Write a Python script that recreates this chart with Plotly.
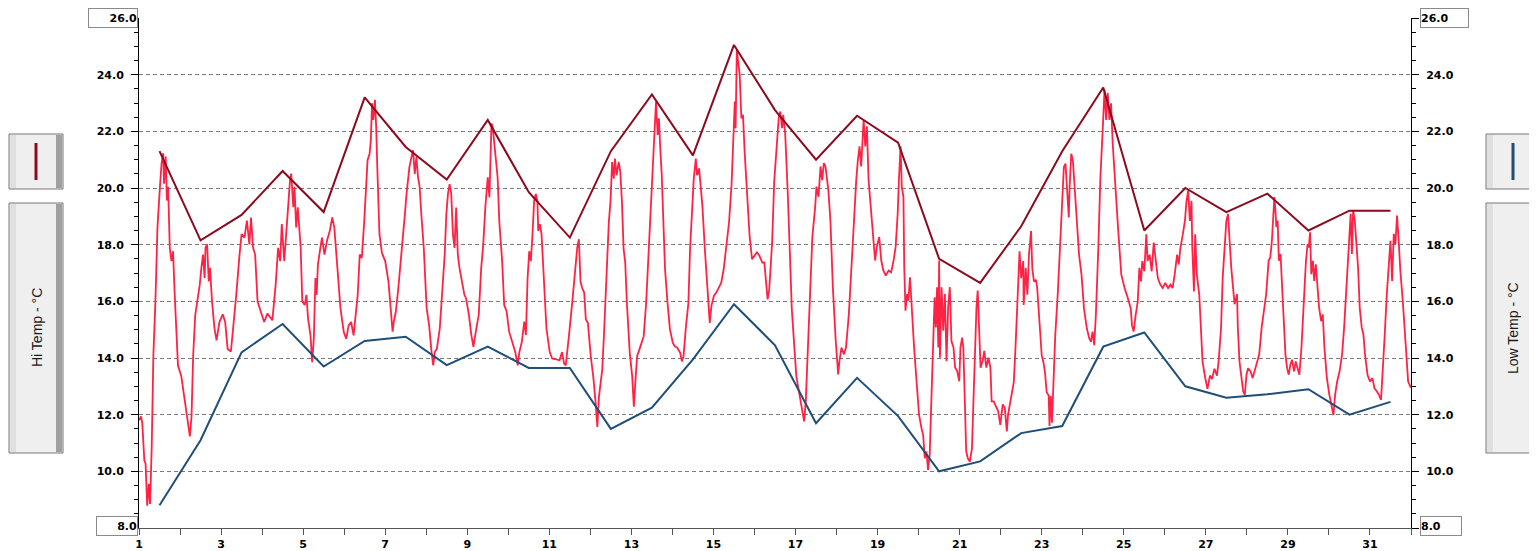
"""
plot.py
Gráfico de temperatura: registo contínuo + máximas/mínimas diárias, dois eixos Y.
"""

import plotly.graph_objects as go

# --- Dados ------------------------------------------------------------------

# Máximas / mínimas diárias (ponto a meio de cada dia)
day_mid = [1.5, 2.5, 3.5, 4.5, 5.5, 6.5, 7.5, 8.5, 9.5, 10.5, 11.5, 12.5, 13.5, 14.5, 15.5, 16.5,
           17.5, 18.5, 19.5, 20.5, 21.5, 22.5, 23.5, 24.5, 25.5, 26.5, 27.5, 28.5, 29.5, 30.5, 31.5]
hi_temp = [21.3, 18.15, 19.05, 20.6, 19.15, 23.2, 21.45, 20.3, 22.4, 19.85, 18.25, 21.3, 23.3, 21.15, 25.05, 22.75,
           21.0, 22.55, 21.6, 17.5, 16.65, 18.65, 21.3, 23.55, 18.5, 20.0, 19.15, 19.8, 18.5, 19.2, 19.2]
low_temp = [8.8, 11.1, 14.2, 15.2, 13.7, 14.6, 14.75, 13.75, 14.4, 13.65, 13.65, 11.5, 12.25, 13.95, 15.9, 14.45,
            11.7, 13.3, 11.95, 10.0, 10.35, 11.35, 11.6, 14.4, 14.9, 13.0, 12.6, 12.72, 12.9, 12.0, 12.45]

# Registo contínuo (dia, °C)
temp_x = [
    1.0, 1.05, 1.08, 1.13, 1.16, 1.2, 1.24, 1.27, 1.31, 1.35, 1.40, 1.45, 1.51, 1.55, 1.59, 1.61, 1.65, 1.68, 1.71,
    1.75, 1.79, 1.83, 1.87, 1.95, 2.03, 2.11, 2.19, 2.24, 2.28, 2.32, 2.37, 2.44, 2.48, 2.52, 2.56, 2.6, 2.62, 2.66,
    2.70, 2.73, 2.78, 2.84, 2.89, 2.96, 3.04, 3.1, 3.16, 3.24, 3.31, 3.37, 3.45, 3.5, 3.57, 3.63, 3.69, 3.73, 3.78,
    3.83, 3.89, 3.97, 4.05, 4.13, 4.25, 4.33, 4.39, 4.44, 4.48, 4.54, 4.58, 4.63, 4.68, 4.71, 4.76, 4.79, 4.83, 4.87,
    4.94, 4.98, 5.04, 5.08, 5.12, 5.18, 5.22, 5.26, 5.3, 5.33, 5.36, 5.42, 5.46, 5.52, 5.58, 5.65, 5.71, 5.76, 5.81,
    5.87, 5.91, 5.99, 6.05, 6.11, 6.17, 6.23,
    6.33, 6.38, 6.43, 6.49, 6.54, 6.57, 6.62, 6.65, 6.68, 6.71, 6.75, 6.78, 6.81, 6.86, 6.92, 7.0, 7.08, 7.13, 7.18,
    7.21, 7.26, 7.32, 7.4, 7.44, 7.48, 7.52, 7.59, 7.64, 7.68, 7.72, 7.76, 7.80, 7.84, 7.88, 7.94, 8.01, 8.07, 8.13,
    8.17, 8.21, 8.26, 8.33, 8.39, 8.45, 8.49, 8.53, 8.57, 8.61, 8.65, 8.69, 8.73, 8.77, 8.81, 8.88, 8.93, 8.97, 9.04,
    9.1, 9.15, 9.22, 9.28, 9.34, 9.39, 9.44, 9.5, 9.54, 9.56, 9.59, 9.62, 9.66, 9.7, 9.74, 9.78, 9.85, 9.9, 9.96,
    10.02, 10.09, 10.17, 10.23, 10.27, 10.33, 10.39, 10.43, 10.47, 10.51, 10.55, 10.59, 10.63, 10.67, 10.71, 10.73,
    10.77, 10.81, 10.87, 10.93, 11.01, 11.07, 11.17, 11.25, 11.31, 11.36, 11.4, 11.44, 11.48, 11.56, 11.62, 11.68,
    11.72, 11.76, 11.8,
    11.81, 11.85, 11.89, 11.94, 12.01, 12.07, 12.13, 12.17, 12.21, 12.25, 12.29, 12.33, 12.4, 12.45, 12.49, 12.53,
    12.57, 12.6, 12.64, 12.69, 12.73, 12.77, 12.81, 12.85, 12.89, 12.96, 13.02, 13.06, 13.1, 13.14, 13.22, 13.3,
    13.36, 13.42, 13.46, 13.5, 13.54, 13.58, 13.6, 13.64, 13.67, 13.7, 13.74, 13.78, 13.82, 13.88, 13.94, 14.01,
    14.06, 14.12, 14.19, 14.23, 14.27, 14.33, 14.39, 14.43, 14.47, 14.52, 14.57, 14.6, 14.65, 14.69, 14.73, 14.79,
    14.85, 14.91, 14.95, 15.01, 15.07, 15.14, 15.19, 15.25, 15.31, 15.38, 15.44, 15.48, 15.52, 15.54, 15.57, 15.6,
    15.64, 15.68, 15.72, 15.76, 15.8, 15.88, 15.94, 16.0, 16.06, 16.12, 16.19, 16.24, 16.3, 16.32, 16.36, 16.43,
    16.48, 16.54, 16.59, 16.63, 16.67, 16.7, 16.75, 16.81, 16.86, 16.91, 16.97, 17.02, 17.09,
    17.15, 17.21, 17.25, 17.29, 17.35, 17.41, 17.48, 17.51, 17.56, 17.61, 17.65, 17.69, 17.73, 17.8, 17.85, 17.91,
    17.98, 18.04, 18.07, 18.12, 18.18, 18.23, 18.3, 18.36, 18.42, 18.48, 18.52, 18.56, 18.6, 18.64, 18.66, 18.7,
    18.74, 18.78, 18.85, 18.9, 18.94, 18.98, 19.04, 19.09, 19.14, 19.2, 19.27, 19.33, 19.39, 19.44, 19.49, 19.52,
    19.56, 19.59, 19.63, 19.65, 19.68, 19.72, 19.75, 19.79, 19.83, 19.89, 19.95, 20.01, 20.07, 20.11, 20.15, 20.19,
    20.23, 20.27, 20.31, 20.35, 20.39, 20.42, 20.45, 20.48, 20.5, 20.52, 20.56, 20.6, 20.64, 20.68, 20.72, 20.76,
    20.8, 20.85, 20.89, 20.94, 20.99, 21.02, 21.06, 21.09, 21.12, 21.16, 21.2, 21.25, 21.3, 21.35, 21.38, 21.41,
    21.44, 21.48, 21.51, 21.56, 21.6, 21.65, 21.7, 21.75, 21.78, 21.83, 21.89, 21.94, 21.99, 22.05, 22.1, 22.15,
    22.18,
    22.26, 22.32, 22.36, 22.42, 22.46, 22.5, 22.55, 22.56, 22.61, 22.65, 22.69, 22.74, 22.77, 22.81, 22.86, 22.89,
    22.94, 23.0, 23.04, 23.08, 23.12, 23.17, 23.19, 23.22, 23.25, 23.29, 23.33, 23.39, 23.44, 23.5, 23.54, 23.58,
    23.62, 23.66, 23.68, 23.72, 23.76, 23.8, 23.85, 23.91, 23.97, 24.03, 24.1, 24.16, 24.2, 24.24, 24.28, 24.32,
    24.38, 24.43, 24.49, 24.53, 24.57, 24.61, 24.65, 24.69, 24.73, 24.79, 24.86, 24.94, 25.02, 25.1, 25.17, 25.2,
    25.24, 25.29, 25.34, 25.38, 25.42, 25.45, 25.5, 25.55, 25.58, 25.63, 25.68, 25.73, 25.78, 25.83, 25.89, 25.95,
    26.01, 26.08, 26.14, 26.19, 26.24, 26.3, 26.34, 26.38, 26.44, 26.49, 26.53, 26.57, 26.61, 26.65, 26.67, 26.71,
    26.74, 26.78, 26.84, 26.88, 26.92, 26.99, 27.04, 27.1, 27.15, 27.21, 27.27, 27.31, 27.37, 27.41, 27.46, 27.5,
    27.54, 27.58, 27.62,
    27.7, 27.76, 27.78, 27.82, 27.87, 27.91, 27.95, 27.99, 28.03, 28.09, 28.14, 28.2, 28.25, 28.3, 28.36, 28.42,
    28.47, 28.53, 28.57, 28.61, 28.63, 28.67, 28.69, 28.72, 28.75, 28.78, 28.82, 28.86, 28.9, 28.94, 28.98, 29.02,
    29.06, 29.1, 29.15, 29.19, 29.23, 29.28, 29.33, 29.37, 29.41, 29.44, 29.48, 29.51, 29.54, 29.57, 29.61, 29.64,
    29.68, 29.72, 29.76, 29.81, 29.85, 29.89, 29.95, 30.01, 30.07, 30.11, 30.15, 30.2, 30.26, 30.32, 30.37, 30.42,
    30.47, 30.51, 30.53, 30.56, 30.59, 30.63, 30.67, 30.71, 30.75, 30.8, 30.84, 30.88, 30.94, 31.0, 31.06, 31.11,
    31.17, 31.22, 31.27, 31.31, 31.36, 31.41, 31.46, 31.5, 31.54, 31.58, 31.62, 31.66, 31.7, 31.74, 31.8, 31.87,
    31.93, 32.0,
]
temp_y = [
    11.8, 11.94, 11.7, 10.39, 10.27, 8.79, 9.56, 8.85, 10.87, 14.08, 15.99, 18.61, 20.04, 20.87, 21.23, 20.15, 21.11,
    19.56, 20.04, 17.89, 17.42, 17.77, 16.23, 13.73, 13.37, 12.54, 11.58, 11.23, 11.94, 14.08, 15.51, 16.23, 16.58,
    17.18, 17.65, 16.82, 17.89, 18.01, 16.7, 17.18, 15.99, 15.04, 14.62, 15.27, 15.54, 15.27, 14.32, 14.23, 15.27,
    16.23, 17.65, 18.37, 18.25, 18.85, 18.01, 18.96, 17.89, 17.65, 15.99, 15.63, 15.27, 15.57, 15.33, 16.58, 17.89,
    17.42, 18.73, 17.42, 18.25, 19.56, 20.27, 20.51, 19.32, 20.04, 18.61, 19.32, 17.89, 15.99, 15.87, 16.23, 15.39,
    14.8, 13.85, 14.68, 16.82, 16.23, 17.3, 17.89, 18.25, 17.65, 18.13, 18.49, 18.96, 18.61, 17.65, 16.7, 15.75,
    14.92, 14.68, 15.15, 15.27, 14.8,
    16.23, 17.65, 17.53, 18.84, 20.03, 20.98, 21.21, 21.69, 22.99, 22.4, 23.11, 22.16, 20.62, 18.37, 17.71, 17.42,
    16.7, 15.76, 14.93, 15.28, 15.64, 16.47, 17.65, 18.25, 19.08, 19.79, 20.74, 21.09, 21.33, 20.5, 21.09, 20.38,
    20.03, 19.08, 17.89, 15.76, 15.16, 14.21, 13.74, 14.21, 14.33, 15.04, 16.23, 17.65, 19.08, 19.79, 20.14, 19.79,
    18.37, 17.89, 19.31, 17.65, 17.18, 16.7, 16.23, 16.11, 15.52, 14.81, 14.39, 15.04, 15.52, 17.18, 18.01, 19.31,
    20.38, 19.67, 21.21, 22.28, 22.16, 21.57, 20.98, 20.38, 18.84, 17.42, 15.87, 15.64, 14.93, 14.57, 14.21, 13.74,
    14.21, 14.57, 15.28, 14.81, 16.82, 17.77, 17.42, 18.37, 19.55, 19.79, 19.55, 18.48, 18.72, 18.37, 16.82, 15.04,
    14.21, 13.98, 13.95, 13.92, 14.21, 13.8, 13.74, 14.21, 14.81, 15.99, 16.82, 17.89, 18.19, 16.7, 16.47,
    16.43, 16.31, 15.36, 15.24, 14.06, 13.35, 12.4, 11.57, 12.64, 13.11, 13.59, 14.77, 17.14, 18.79, 19.5, 20.92,
    20.33, 21.04, 20.45, 20.92, 20.57, 19.5, 17.85, 17.37, 15.95, 14.18, 13.35, 12.28, 13.23, 14.06, 14.41, 14.77,
    15.95, 17.85, 19.27, 20.21, 21.28, 22.46, 23.05, 21.87, 22.46, 21.51, 20.45, 18.79, 17.14, 15.95, 15.01, 14.53,
    14.41, 14.36, 14.18, 13.88, 14.06, 15.12, 15.95, 17.85, 18.79, 20.33, 21.04, 20.45, 20.69, 19.98, 19.38, 17.85,
    16.43, 15.24, 15.83, 16.19, 16.31, 16.54, 16.66, 17.14, 17.85, 18.79, 20.09, 21.87, 23.05, 22.11, 24.9, 24.47,
    24.0, 22.46, 22.58, 21.28, 20.33, 18.32, 17.49, 17.61, 17.73, 17.61, 17.37, 17.37, 16.43, 16.07, 16.43, 18.08,
    20.21, 21.51, 22.46, 22.7, 22.11, 22.58, 21.87, 19.86, 18.08, 15.72, 14.41, 13.35, 12.76,
    12.24, 11.76, 12.47, 13.78, 16.14, 18.27, 19.34, 20.05, 19.69, 20.76, 20.28, 20.88, 20.76, 19.93, 18.86, 16.5,
    14.6, 13.42, 13.89, 14.37, 14.13, 14.37, 15.55, 17.21, 18.75, 20.28, 20.99, 21.47, 20.76, 21.94, 22.41, 21.47,
    22.18, 20.28, 19.1, 18.15, 17.44, 17.92, 18.27, 17.44, 17.09, 16.91, 17.09, 17.03, 17.44, 17.92, 19.1, 20.28,
    21.47, 20.05, 19.69, 17.21, 15.67, 16.26, 16.02, 16.85, 15.79, 14.37, 13.18, 12.0, 11.52, 11.29, 10.46, 10.7,
    10.05, 10.58, 12.47, 14.37, 16.14, 15.08, 16.5, 14.37, 17.44, 14.01, 16.5, 14.96, 16.26, 13.89, 15.79, 16.5,
    14.6, 14.37, 13.66, 13.54, 13.18, 14.37, 14.72, 14.37, 12.47, 10.7, 10.46, 10.34, 10.82, 13.18, 14.84, 15.79,
    16.38, 14.6, 13.66, 13.89, 14.25, 13.66, 14.01, 13.66, 12.47, 12.47, 12.24, 12.12, 11.64, 12.36, 12.24, 11.41,
    12.0,
    12.67, 13.15, 14.33, 16.23, 17.77, 16.82, 17.42, 15.87, 17.18, 16.23, 17.65, 18.48, 17.18, 16.7, 16.76, 16.47,
    15.28, 14.1, 13.86, 13.5, 12.8, 12.67, 11.6, 12.67, 11.72, 13.15, 14.8, 16.23, 17.89, 19.79, 20.74, 20.86,
    20.03, 18.96, 20.03, 21.21, 20.97, 20.03, 18.84, 17.65, 16.94, 15.75, 15.04, 14.69, 14.57, 14.93, 14.45, 15.52,
    17.89, 20.38, 22.16, 23.47, 22.4, 23.35, 22.4, 22.99, 21.57, 20.03, 18.6, 16.94, 16.47, 16.11, 15.75, 15.16,
    14.93, 15.52, 15.99, 17.18, 16.7, 17.42, 17.06, 18.37, 17.42, 17.65, 17.06, 18.07, 17.42, 16.82, 16.59, 16.47,
    16.65, 16.47, 16.59, 16.47, 16.94, 17.65, 17.3, 17.89, 18.37, 18.84, 19.55, 19.91, 18.84, 19.55, 17.89, 16.35,
    18.37, 16.94, 16.23, 14.81, 13.86, 13.26, 12.91, 13.38, 13.26, 13.62, 13.38, 13.86, 15.04, 16.82, 17.89, 18.84,
    19.08, 18.13, 17.18,
    15.9, 16.25, 15.07, 13.88, 13.29, 12.82, 12.7, 13.41, 13.64, 13.53, 13.29, 13.64, 13.88, 14.12, 15.07, 15.66,
    16.25, 17.43, 17.55, 18.14, 18.85, 19.68, 19.33, 18.62, 18.85, 17.43, 17.67, 16.25, 15.3, 14.12, 13.64, 13.41,
    13.76, 13.94, 13.53, 13.88, 13.64, 13.41, 14.36, 15.66, 16.49, 17.43, 18.02, 17.9, 18.44, 16.96, 17.43, 16.72,
    17.31, 16.6, 15.78, 15.3, 15.54, 14.36, 13.29, 12.7, 12.22, 11.99, 12.7, 13.17, 13.53, 14.12, 15.07, 16.25,
    17.55, 18.38, 19.09, 17.67, 19.21, 18.85, 18.02, 17.2, 15.78, 15.07, 14.83, 14.12, 13.41, 13.17, 13.29, 12.93,
    12.82, 12.7, 12.52, 13.41, 14.83, 16.25, 17.43, 18.14, 16.72, 18.38, 18.02, 19.03, 18.14, 17.08, 16.01, 14.47,
    13.17, 12.95,
]

x_ticks = list(range(1, 33))
x_labels = [str(d) if d % 2 == 1 and d < 32 else "" for d in x_ticks]
y_ticks = [8, 10, 12, 14, 16, 18, 20, 22, 24, 26]
y_labels = ["", "10.0", "12.0", "14.0", "16.0", "18.0", "20.0", "22.0", "24.0", ""]

# --- Geometria --------------------------------------------------------------
# A página tem 8px de margem no <body>; a figura é desenhada em coordenadas da página
# e depois deslocada, para que a área do gráfico fique em 139..1411 x 18..528.
OFF = 8
W, H = 1537 - OFF, 551 - OFF
PL, PR, PT, PB = 139, 1411, 18, 528   # coordenadas da página


def px(p):
    return (p - PL) / (PR - PL)


def py(q):
    return (PB - q) / (PB - PT)


RED = "#ff2244"
HI_COL = "#8c0a1e"
LO_COL = "#1f4e79"
TICK_FONT = dict(family="DejaVu Sans", size=11, color="#000000", weight="bold")

fig = go.Figure()

fig.add_trace(go.Scatter(x=temp_x, y=temp_y, mode="lines", line=dict(color=RED, width=1.8), yaxis="y"))
fig.add_trace(go.Scatter(x=day_mid, y=hi_temp, mode="lines", line=dict(color=HI_COL, width=2), yaxis="y"))
fig.add_trace(go.Scatter(x=day_mid, y=low_temp, mode="lines", line=dict(color=LO_COL, width=2), yaxis="y2"))

y_common = dict(
    range=[8, 26], tickvals=y_ticks, ticktext=y_labels, ticks="outside", ticklen=7, tickcolor="#000",
    showline=True, linecolor="#000", linewidth=1, zeroline=False, tickfont=TICK_FONT, automargin=False,
    ticklabelstandoff=5,
    minor=dict(dtick=0.5, tick0=8, ticks="outside", ticklen=4, tickcolor="#000", showgrid=False),
)

fig.update_layout(
    width=W, height=H,
    margin=dict(l=PL - OFF, r=1537 - PR, t=PT - OFF, b=551 - PB),
    paper_bgcolor="white", plot_bgcolor="white",
    showlegend=False,
    xaxis=dict(range=[1, 32], tickvals=x_ticks, ticktext=x_labels, ticks="outside", ticklen=6,
               tickcolor="#555", showline=True, linecolor="#555", linewidth=1, showgrid=False,
               zeroline=False, tickfont=TICK_FONT, automargin=False),
    yaxis=dict(**y_common, side="left", showgrid=True, gridcolor="#7a7a7a", gridwidth=1, griddash="4px,3px"),
    yaxis2=dict(**y_common, side="right", overlaying="y", showgrid=False),
)

# Valores extremos dos eixos em caixas
box_labels = [
    ("26.0", 88, 138, 18, "right"),
    ("8.0", 96, 138, 526, "right"),
    ("26.0", 1420, 1469, 18, "left"),
    ("8.0", 1420, 1462, 526, "left"),
]
for txt, x0, x1, yc, al in box_labels:
    fig.add_annotation(
        text=txt, xref="paper", yref="paper", x=px(x0), y=py(yc), xanchor="left", yanchor="middle",
        width=x1 - x0 - 2, height=18, align=al, showarrow=False, font=TICK_FONT,
        bordercolor="#8a8a8a", borderwidth=1, borderpad=0, bgcolor="white",
    )


# Caixas laterais (legenda / título dos eixos)
def side_box(x0, x1, y0, y1):
    fig.add_shape(type="rect", xref="paper", yref="paper", x0=px(x0), x1=px(x1), y0=py(y1), y1=py(y0),
                  fillcolor="#efefef", line=dict(color="#777", width=1), layer="above")
    fig.add_shape(type="rect", xref="paper", yref="paper", x0=px(x0 + 1), x1=px(x0 + 7), y0=py(y1 - 1),
                  y1=py(y0 + 1), fillcolor="#e0e0e0", line=dict(width=0), layer="above")
    fig.add_shape(type="rect", xref="paper", yref="paper", x0=px(x1 - 7), x1=px(x1 - 1), y0=py(y1 - 1),
                  y1=py(y0 + 1), fillcolor="#a0a0a0", line=dict(width=0), layer="above")


side_box(9, 63, 134, 189)
side_box(9, 63, 203, 453)
side_box(1486, 1541, 134, 189)
side_box(1486, 1541, 203, 453)

for xc, col in [(36, HI_COL), (1513, LO_COL)]:
    fig.add_shape(type="line", xref="paper", yref="paper", x0=px(xc), x1=px(xc), y0=py(143), y1=py(180),
                  line=dict(color=col, width=3), layer="above")

for txt, xc in [("Hi Temp - °C", 37), ("Low Temp - °C", 1513)]:
    fig.add_annotation(text=txt, xref="paper", yref="paper", x=px(xc), y=py(328), textangle=-90,
                       showarrow=False, xanchor="center", yanchor="middle",
                       font=dict(family="Liberation Sans", size=14, color="#1a1a1a"))

fig.write_html("out.html")
